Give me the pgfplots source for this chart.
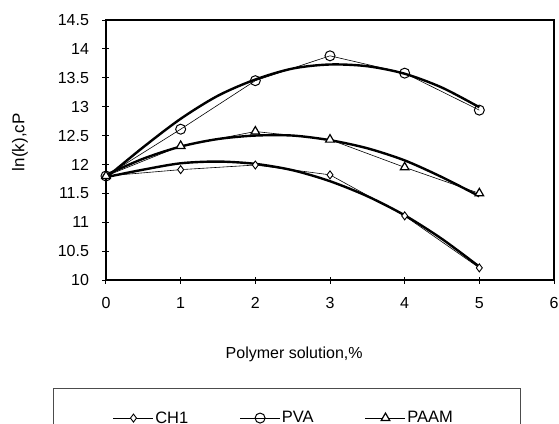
\documentclass[border=0pt]{standalone}
\usepackage{pgfplots}
\pgfplotsset{compat=1.18}
\usepackage{fontspec}
\setmainfont{Liberation Sans}
\begin{document}
\begin{tikzpicture}
\begin{axis}[
  name=ax,
  at={(0,0)}, anchor=south west,
  scale only axis, width=448pt, height=260pt,
  xmin=0, xmax=6, ymin=10, ymax=14.5,
  xtick={0,1,2,3,4,5,6},
  ytick={10,10.5,11,11.5,12,12.5,13,13.5,14,14.5},
  yticklabels={10,10.5,11,11.5,12,12.5,13,13.5,14,14.5},
  /pgf/number format/assume math mode=true,
  tick align=center, major tick length=7pt,
  xtick pos=bottom, ytick pos=left,
  axis line style={line width=1.3pt},
  tick style={line width=1pt, black},
  ticklabel style={font=\fontsize{16}{18}\selectfont},
  yticklabel style={xshift=-10pt},
  xticklabel style={yshift=-10pt},
  every axis y label/.style={at={(axis description cs:-0.192,0.53)}, rotate=90, anchor=center, font=\fontsize{17}{19}\selectfont},
  ylabel={ln(k),cP},
  every axis x label/.style={at={(axis description cs:0.42,-0.285)}, anchor=center, font=\fontsize{16}{18}\selectfont},
  xlabel={Polymer solution,\%},
  legend columns=3,
  legend style={at={(axis description cs:0.0156,-0.531)}, anchor=west, draw=none, fill=none, inner sep=0pt,
    font=\fontsize{16.5}{18}\selectfont,
    nodes={inner sep=1.5pt},
    /tikz/every even column/.append style={column sep=50pt}},
  legend image code/.code={\draw[mark repeat=2,mark phase=2,line width=0.6pt] plot coordinates {(0pt,0pt) (20pt,0pt) (40pt,0pt)};},
  clip=false,
]
% data series (thin lines with markers)
\addplot[black, line width=0.6pt, mark=diamond*, mark size=4pt, mark options={fill=white, line width=0.9pt}]
  coordinates {(0,11.8)(1,11.91)(2,11.99)(3,11.82)(4,11.11)(5,10.21)};
\addlegendentry{CH1}
\addplot[black, line width=0.6pt, mark=o, mark size=5pt, mark options={fill=white, line width=1pt}]
  coordinates {(0,11.8)(1,12.61)(2,13.45)(3,13.88)(4,13.58)(5,12.94)};
\addlegendentry{PVA}
\addplot[black, line width=0.6pt, mark=triangle*, mark size=5pt, mark options={fill=white, line width=1.2pt}]
  coordinates {(0,11.8)(1,12.32)(2,12.57)(3,12.43)(4,11.95)(5,11.5)};
\addlegendentry{PAAM}
% trend curves (thick)
\addplot[black, line width=2.4pt, smooth, no marks, forget plot]
  coordinates {(0,11.78)(0.5,11.91)(1,12.02)(1.5,12.05)(2,12.01)(2.5,11.90)(3,11.71)(3.5,11.45)(4,11.12)(4.5,10.71)(5,10.23)};
\addplot[black, line width=2.4pt, smooth, no marks, forget plot]
  coordinates {(0,11.77)(0.5,12.3)(1,12.79)(1.5,13.19)(2,13.47)(2.5,13.66)(3,13.73)(3.5,13.70)(4,13.57)(4.5,13.33)(5,12.99)};
\addplot[black, line width=2.4pt, smooth, no marks, forget plot]
  coordinates {(0,11.82)(0.5,12.10)(1,12.31)(1.5,12.44)(2,12.50)(2.5,12.50)(3,12.42)(3.5,12.28)(4,12.07)(4.5,11.78)(5,11.45)};
\draw[black!70, line width=0.6pt] (rel axis cs:-0.118,-0.415) rectangle (rel axis cs:0.924,-0.7);
\end{axis}
\pgfresetboundingbox
\path[use as bounding box] (-106pt,-143pt) rectangle (453pt,280pt);
\end{tikzpicture}
\end{document}
